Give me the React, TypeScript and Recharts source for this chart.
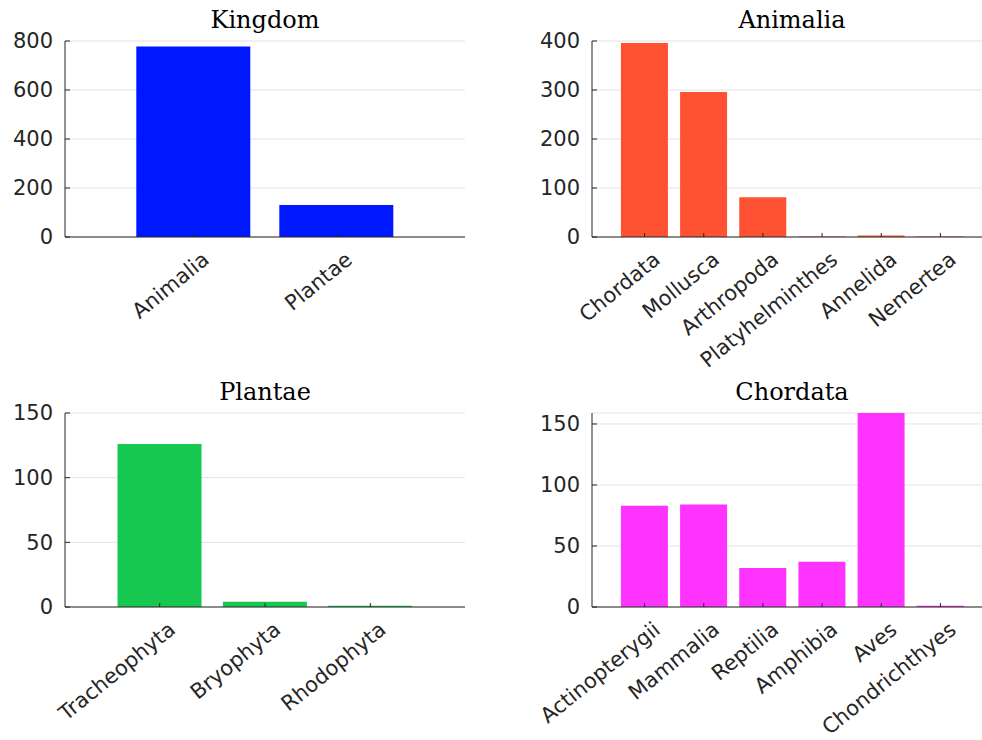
import { Bar, BarChart, CartesianGrid, XAxis, YAxis } from 'recharts'

const kingdomNames = ['Animalia', 'Plantae']
const kingdomCounts = [778, 131]

const animaliaNames = ['Chordata', 'Mollusca', 'Arthropoda', 'Platyhelminthes', 'Annelida', 'Nemertea']
const animaliaCounts = [396, 296, 81, 1, 3, 1]

const plantaeNames = ['Tracheophyta', 'Bryophyta', 'Rhodophyta']
const plantaeCounts = [126, 4, 1]

const chordataNames = ['Actinopterygii', 'Mammalia', 'Reptilia', 'Amphibia', 'Aves', 'Chondrichthyes']
const chordataCounts = [83, 84, 32, 37, 159, 1]

const kingdomTicks = [0, 200, 400, 600, 800]
const animaliaTicks = [0, 100, 200, 300, 400]
const plantaeTicks = [0, 50, 100, 150]
const chordataTicks = [0, 50, 100, 150]

const ink = '#262626'
const tickFont = 'DejaVu Sans'

// rotated category labels, anchored at the end of the word
function SlantTick(props: any) {
  const { x, y, payload } = props
  const ax = x + 17
  const ay = y + 25
  return (
    <text x={ax} y={ay} transform={`rotate(-39 ${ax} ${ay})`} textAnchor="end" fill={ink} fontSize={21} fontFamily={tickFont}>
      {payload.value}
    </text>
  )
}

type PanelProps = {
  names: string[]
  counts: number[]
  ticks: number[]
  max: number
  color: string
  left: number
  top: number
  width: number
  marginLeft: number
  marginRight: number
  marginTop: number
  pad: number
}

function Panel({ names, counts, ticks, max, color, left, top, width, marginLeft, marginRight, marginTop, pad }: PanelProps) {
  const data = names.map((name, i) => ({ name, count: counts[i] }))
  return (
    <div style={{ position: 'absolute', left, top }}>
      <BarChart
        width={width}
        height={420}
        data={data}
        margin={{ top: marginTop, right: marginRight, left: marginLeft, bottom: 83 }}
        barCategoryGap="10%"
      >
        <CartesianGrid vertical={false} stroke="#e3e3e3" />
        <XAxis
          dataKey="name"
          interval={0}
          height={100}
          padding={{ left: pad, right: pad }}
          axisLine={{ stroke: ink }}
          tickLine={{ stroke: ink }}
          tickSize={-4}
          tickMargin={4}
          tick={<SlantTick />}
        />
        <YAxis
          width={60}
          domain={[0, max]}
          ticks={ticks}
          allowDataOverflow
          axisLine={{ stroke: ink }}
          tickLine={{ stroke: ink }}
          tickSize={-5}
          tickMargin={17}
          tick={{ fill: ink, fontSize: 21, fontFamily: tickFont }}
        />
        <Bar dataKey="count" fill={color} isAnimationActive={false} />
      </BarChart>
    </div>
  )
}

const titleStyle = { fontFamily: 'DejaVu Serif', fontSize: 24, fill: '#000' }

export default function App() {
  return (
    <div style={{ position: 'fixed', left: 0, top: 0, width: 982, height: 740, overflow: 'hidden', background: '#fff' }}>
      <Panel names={plantaeNames} counts={plantaeCounts} ticks={plantaeTicks} max={150} color="#17c850"
        left={0} top={370} width={491} marginLeft={5} marginRight={26} marginTop={43} pad={42} />
      <Panel names={chordataNames} counts={chordataCounts} ticks={chordataTicks} max={159} color="#ff33ff"
        left={491} top={370} width={520} marginLeft={41} marginRight={18} marginTop={43} pad={23} />
      <Panel names={kingdomNames} counts={kingdomCounts} ticks={kingdomTicks} max={800} color="#0018ff"
        left={0} top={0} width={491} marginLeft={5} marginRight={26} marginTop={41} pad={57} />
      <Panel names={animaliaNames} counts={animaliaCounts} ticks={animaliaTicks} max={400} color="#ff5233"
        left={491} top={0} width={520} marginLeft={41} marginRight={18} marginTop={41} pad={23} />
      <svg width={982} height={740} style={{ position: 'absolute', left: 0, top: 0, pointerEvents: 'none' }}>
        <text x={265} y={28} textAnchor="middle" style={titleStyle}>Kingdom</text>
        <text x={792} y={28} textAnchor="middle" style={titleStyle}>Animalia</text>
        <text x={265} y={400} textAnchor="middle" style={titleStyle}>Plantae</text>
        <text x={792} y={400} textAnchor="middle" style={titleStyle}>Chordata</text>
      </svg>
    </div>
  )
}
